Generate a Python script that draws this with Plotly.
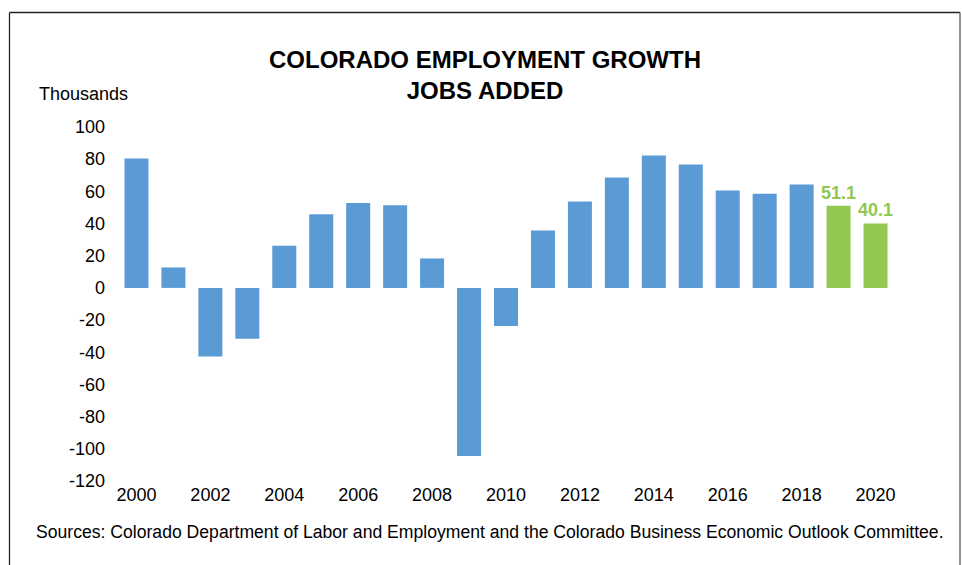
import plotly.graph_objects as go

# Annual jobs added in Colorado, thousands (2019 and 2020 are forecasts)
years = list(range(2000, 2021))
jobs_added = [80.5, 12.7, -42.7, -31.6, 26.2, 45.8, 52.7, 51.4, 18.3, -104.5,
              -23.7, 35.7, 53.7, 68.6, 82.3, 76.7, 60.6, 58.5, 64.3, 51.1, 40.1]
is_forecast = [False] * 19 + [True, True]
tick_years = list(range(2000, 2021, 2))
y_ticks = list(range(-120, 101, 20))

BLUE = "#5B9BD5"
GREEN = "#92C852"
FONT = "Liberation Sans, Arial, sans-serif"

W, H = 962, 565
L, R, T, B = 118, 68, 127, 84
plot_w, plot_h = W - L - R, H - T - B

colors = [GREEN if f else BLUE for f in is_forecast]
labels = [f"{v:.1f}" if f else "" for v, f in zip(jobs_added, is_forecast)]

fig = go.Figure(go.Bar(
    x=years, y=jobs_added,
    marker=dict(color=colors, line=dict(width=0)),
    text=labels, textposition="outside", cliponaxis=False,
    constraintext="none",
    textfont=dict(family=FONT, size=18, color=GREEN, weight="bold"),
))


def px_x(p):
    return (p - L) / plot_w


def px_y(p):
    return (H - B - p) / plot_h


frame = [
    dict(x0=px_x(9.5), x1=px_x(9.5), y0=px_y(12.5), y1=px_y(570), color="#222222", w=1.3),
    dict(x0=px_x(9.5), x1=px_x(960), y0=px_y(12.5), y1=px_y(12.5), color="#222222", w=1.3),
    dict(x0=px_x(960), x1=px_x(960), y0=px_y(12.5), y1=px_y(570), color="#777777", w=1.6),
]
shapes = [dict(type="line", xref="paper", yref="paper", x0=f["x0"], x1=f["x1"],
               y0=f["y0"], y1=f["y1"], line=dict(color=f["color"], width=f["w"]))
          for f in frame]

fig.update_layout(
    width=W, height=H,
    margin=dict(l=L, r=R, t=T, b=B, pad=0),
    paper_bgcolor="white", plot_bgcolor="white",
    bargap=0.35, showlegend=False,
    font=dict(family=FONT, size=18, color="#000000"),
    shapes=shapes,
    annotations=[
        dict(text="<b>COLORADO EMPLOYMENT GROWTH<br>JOBS ADDED</b>",
             xref="paper", yref="paper", x=px_x(484.5), y=px_y(75),
             xanchor="center", yanchor="middle", showarrow=False,
             font=dict(family=FONT, size=24, color="#000000")),
        dict(text="Thousands", xref="paper", yref="paper",
             x=px_x(37), y=px_y(94), xanchor="left", yanchor="middle",
             showarrow=False, font=dict(family=FONT, size=18)),
        dict(text="Sources: Colorado Department of Labor and Employment and the "
                  "Colorado Business Economic Outlook Committee.",
             xref="paper", yref="paper", x=px_x(34), y=px_y(532),
             xanchor="left", yanchor="middle", showarrow=False,
             font=dict(family=FONT, size=17.6)),
    ],
    xaxis=dict(range=[1999.5, 2020.5], tickvals=tick_years,
               ticktext=[str(y) for y in tick_years],
               showgrid=False, zeroline=False, showline=False, ticks="",
               ticklabelstandoff=1, fixedrange=True),
    yaxis=dict(range=[-120, 100], tickvals=y_ticks,
               ticktext=[str(v) for v in y_ticks],
               showgrid=False, zeroline=False, showline=False, ticks="",
               ticklabelstandoff=12, fixedrange=True),
)

fig.write_html("out.html")
